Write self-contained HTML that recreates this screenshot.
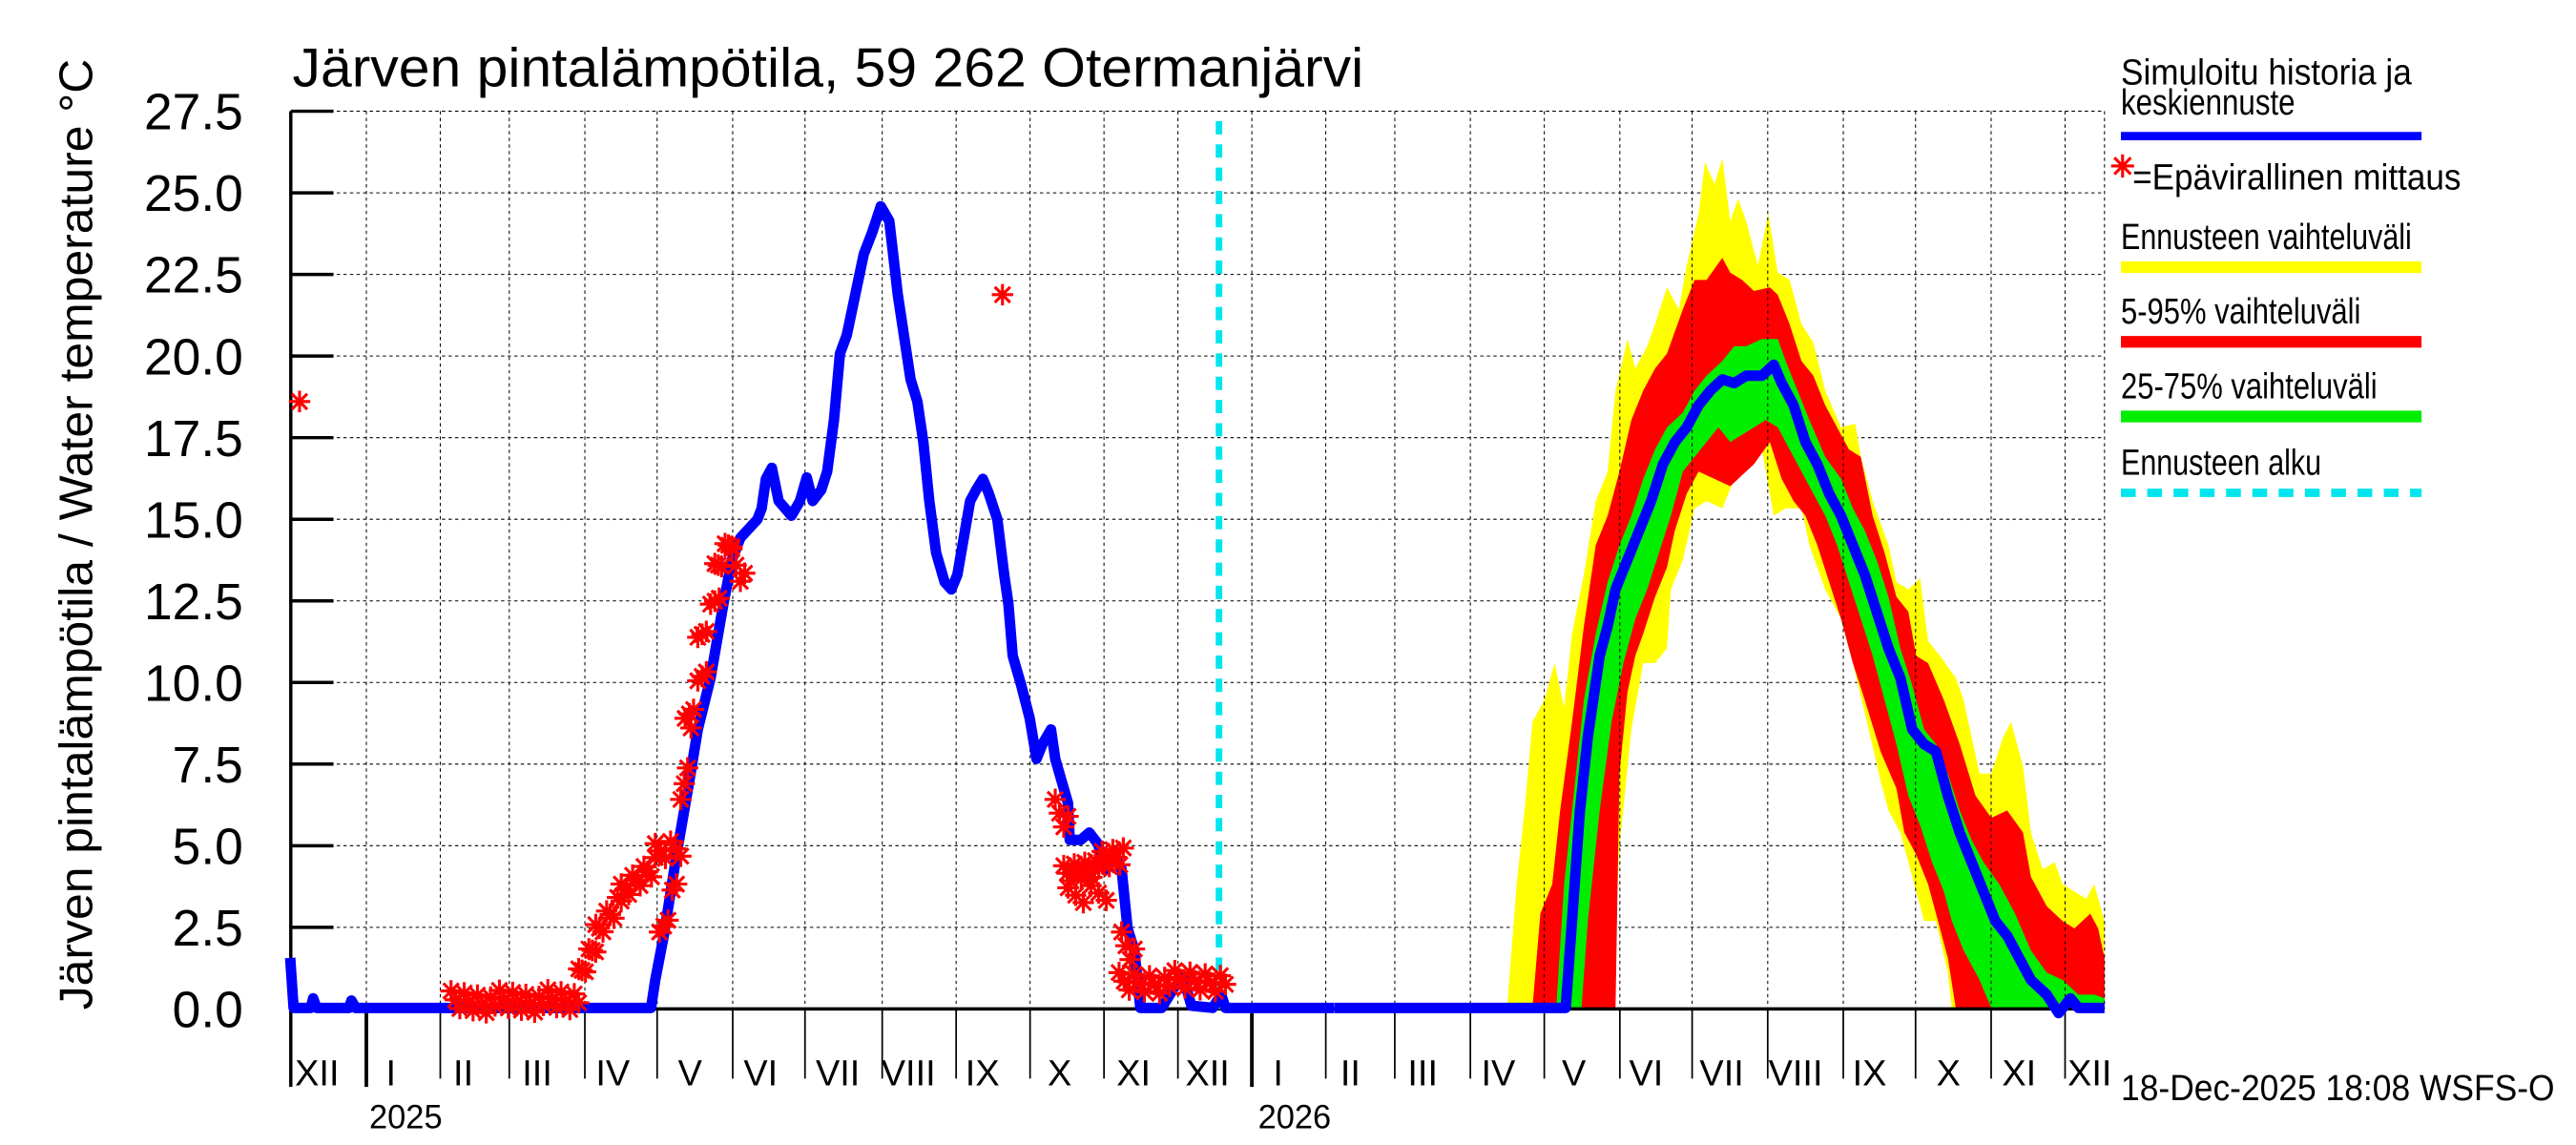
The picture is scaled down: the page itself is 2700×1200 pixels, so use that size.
<!DOCTYPE html>
<html><head><meta charset="utf-8"><style>
html,body{margin:0;padding:0;background:#fff;}
svg{display:block;}
text{font-family:"Liberation Sans",sans-serif;fill:#000;}
</style></head><body>
<svg id="s" width="2700" height="1200" viewBox="0 0 1568 690" preserveAspectRatio="none" xmlns="http://www.w3.org/2000/svg">
<g id="grid" stroke="#000" stroke-width="0.6" stroke-dasharray="2,2"></g>
<g transform="translate(812.4,0) scale(0.4816,0.444)">
<polygon fill="#ffff00" points="218,1368 230,1200 240,1100 250,980 265,950 278,900 290,960 300,860 315,780 330,680 345,640 355,530 370,460 380,500 395,470 405,440 420,390 435,420 445,360 460,290 468,220 480,250 490,215 500,300 510,270 520,300 535,360 548,290 560,370 575,380 590,440 605,465 620,530 640,580 658,575 665,620 680,680 700,740 710,790 725,800 740,785 750,870 765,890 785,920 795,950 805,1000 815,1050 830,1050 845,1000 855,980 870,1040 880,1130 895,1180 910,1170 920,1200 935,1210 950,1220 960,1200 973,1250 973,1368 780,1368 775,1320 760,1250 745,1250 730,1190 715,1130 700,1100 690,1060 675,990 655,900 640,840 620,800 600,740 590,690 570,690 555,700 540,610 520,630 505,650 490,690 470,680 455,690 440,760 425,800 420,880 405,900 390,900 375,990 360,1150 350,1368"/>
<polygon fill="#ff0000" points="250,1368 260,1240 275,1200 285,1100 300,980 315,850 330,740 345,700 360,640 375,570 390,530 405,500 420,480 440,420 455,380 470,380 490,350 500,370 515,380 530,395 550,390 560,400 575,440 590,490 605,510 620,550 635,580 650,610 665,620 680,700 695,750 710,810 725,830 735,890 750,900 770,950 790,1010 810,1080 830,1110 850,1100 870,1130 880,1190 900,1230 920,1250 935,1260 955,1240 965,1260 973,1300 973,1368 785,1368 775,1300 765,1260 750,1200 735,1160 720,1130 710,1070 690,1020 670,950 655,900 640,840 625,790 610,740 595,700 580,680 565,650 550,600 530,630 515,645 500,660 480,650 460,640 445,670 430,720 420,770 405,810 390,860 380,890 370,940 360,1050 355,1368"/>
<polygon fill="#00ee00" points="280,1368 290,1200 300,1100 315,950 330,860 345,790 360,740 375,700 390,650 405,610 420,580 440,560 455,530 470,510 490,490 505,470 520,470 540,460 560,460 570,490 585,530 600,570 620,620 640,650 655,690 670,720 685,760 700,810 715,880 730,930 745,990 760,1010 775,1050 790,1100 805,1140 820,1170 840,1200 860,1240 880,1290 900,1320 920,1330 940,1350 960,1350 973,1355 973,1368 830,1368 815,1330 795,1290 780,1250 770,1210 755,1170 740,1120 725,1080 710,1010 695,950 680,890 665,840 650,790 635,740 620,700 605,670 590,640 575,610 560,580 545,570 530,580 515,590 500,600 485,580 470,600 455,620 440,640 425,700 410,750 395,800 380,840 365,900 350,980 335,1100 320,1250 312,1368"/>
</g>
<g id="gridv" stroke="#000" stroke-width="0.6" stroke-dasharray="2,2"></g>
<line x1="177" y1="608" x2="1281" y2="608" stroke="#000" stroke-width="2"/>
<line x1="177" y1="67" x2="177" y2="655" stroke="#000" stroke-width="2"/>
<g id="ticks" stroke="#000"></g>
<g id="labels"></g>
<line x1="742" y1="73" x2="742" y2="608" stroke="#00e5ee" stroke-width="4" stroke-dasharray="8,6"/>
<g transform="scale(0.518,0.444)">
<polyline fill="none" stroke="#0000ff" stroke-width="11" vector-effect="non-scaling-stroke" stroke-linejoin="round" points="341,1300 345,1368 365,1368 368,1355 372,1368 410,1368 413,1358 418,1368 765,1368 770,1330 780,1270 795,1160 810,1060 820,990 835,920 850,820 860,760 870,730 890,705 895,690 900,650 907,635 915,680 930,700 940,680 948,648 955,680 965,665 972,640 980,570 987,480 995,455 1005,400 1015,345 1025,315 1035,280 1045,300 1055,400 1070,515 1078,545 1085,600 1092,680 1100,750 1110,790 1118,800 1125,780 1140,680 1147,665 1155,650 1162,670 1172,705 1180,780 1185,820 1190,890 1200,930 1210,975 1218,1030 1225,1010 1235,990 1240,1030 1250,1070 1255,1090 1257,1140 1270,1140 1280,1130 1290,1145 1300,1180 1310,1160 1318,1180 1325,1260 1333,1290 1340,1368 1365,1368 1380,1340 1390,1325 1400,1365 1425,1368 1435,1350 1440,1368 1568,1368"/>
</g>
<g transform="translate(812.4,0) scale(0.4816,0.444)">
<polyline fill="none" stroke="#0000ff" stroke-width="11" vector-effect="non-scaling-stroke" stroke-linejoin="round" points="0,1368 292,1368 300,1250 310,1100 320,1000 335,890 345,850 355,800 370,760 385,720 400,680 415,630 430,600 445,580 460,550 475,530 490,515 505,520 520,510 540,510 555,495 565,520 580,550 595,600 610,630 625,670 640,700 655,740 670,780 685,830 700,880 715,920 730,990 745,1010 760,1020 775,1080 790,1130 805,1170 820,1210 835,1250 850,1270 865,1300 880,1330 900,1350 915,1375 930,1355 940,1368 973,1368"/>
</g>
<g id="stars" stroke="#ff0000" stroke-width="1.8" fill="none"></g>
<text x="178" y="52" font-size="33" textLength="652" lengthAdjust="spacingAndGlyphs">Järven pintalämpötila, 59 262 Otermanjärvi</text>
<text transform="translate(56,322) rotate(-90)" font-size="28.5" text-anchor="middle" textLength="573" lengthAdjust="spacingAndGlyphs">Järven pintalämpötila / Water temperature °C</text>
<text x="247" y="680" font-size="20" text-anchor="middle">2025</text>
<text x="788" y="680" font-size="20" text-anchor="middle">2026</text>
<g font-size="22">
<text x="1291" y="51" textLength="177" lengthAdjust="spacingAndGlyphs">Simuloitu historia ja</text>
<text x="1291" y="69" textLength="106" lengthAdjust="spacingAndGlyphs">keskiennuste</text>
<text x="1298" y="114" textLength="200" lengthAdjust="spacingAndGlyphs">=Epävirallinen mittaus</text>
<text x="1291" y="150" textLength="177" lengthAdjust="spacingAndGlyphs">Ennusteen vaihteluväli</text>
<text x="1291" y="195" textLength="146" lengthAdjust="spacingAndGlyphs">5-95% vaihteluväli</text>
<text x="1291" y="240" textLength="156" lengthAdjust="spacingAndGlyphs">25-75% vaihteluväli</text>
<text x="1291" y="286" textLength="122" lengthAdjust="spacingAndGlyphs">Ennusteen alku</text>
<text x="1291" y="663" textLength="264" lengthAdjust="spacingAndGlyphs">18-Dec-2025 18:08 WSFS-O</text>
</g>
<line x1="1291" y1="82" x2="1474" y2="82" stroke="#0000ff" stroke-width="5"/>
<line x1="1291" y1="161" x2="1474" y2="161" stroke="#ffff00" stroke-width="7"/>
<line x1="1291" y1="206" x2="1474" y2="206" stroke="#ff0000" stroke-width="7"/>
<line x1="1291" y1="251" x2="1474" y2="251" stroke="#00ee00" stroke-width="7"/>
<line x1="1291" y1="297" x2="1474" y2="297" stroke="#00e5ee" stroke-width="5" stroke-dasharray="9,7"/>
</svg>
<script>
var NS="http://www.w3.org/2000/svg";
function el(p,t,a,txt){var e=document.createElementNS(NS,t);for(var k in a)e.setAttribute(k,a[k]);if(txt!==undefined)e.textContent=txt;document.getElementById(p).appendChild(e);return e;}
for(var i=0;i<=11;i++){var y=608-i*49.18;
 if(i>0)el("grid","line",{x1:177,y1:y,x2:1281,y2:y});
 el("ticks","line",{x1:177,y1:y,x2:203,y2:y,"stroke-width":2});
 el("labels","text",{x:148,y:y+11,"font-size":31,"text-anchor":"end"},(i*2.5).toFixed(1));}
var m=[223,268,310,356,400,446,490,537,582,627,672,717,762,807,849,895,940,986,1030,1076,1122,1166,1212,1257,1281];
m.forEach(function(x,i){el("gridv","line",{x1:x,y1:67,x2:x,y2:608});
 var yr=(x==223||x==762);
 if(x!=1281)el("ticks","line",{x1:x,y1:608,x2:x,y2:yr?655:650,"stroke-width":yr?2.2:1});});
var lab=[[193,"XII"],[238,"I"],[282,"II"],[327,"III"],[373,"IV"],[420,"V"],[463,"VI"],[510,"VII"],[553,"VIII"],[598,"IX"],[645,"X"],[690,"XI"],[735,"XII"],[778,"I"],[822,"II"],[866,"III"],[912,"IV"],[958,"V"],[1002,"VI"],[1048,"VII"],[1093,"VIII"],[1138,"IX"],[1186,"X"],[1229,"XI"],[1272,"XII"]];
lab.forEach(function(l){el("labels","text",{x:l[0],y:654,"font-size":22,"text-anchor":"middle"},l[1]);});
el("gridv","line",{x1:177,y1:67,x2:1281,y2:67});
function star(x,y){var r=6.5;var q=r*0.72;var d="M"+(x-r)+","+y+"H"+(x+r)+"M"+x+","+(y-r)+"V"+(y+r)+"M"+(x-q)+","+(y-q)+"L"+(x+q)+","+(y+q)+"M"+(x-q)+","+(y+q)+"L"+(x+q)+","+(y-q);el("stars","path",{d:d});}
function z(x,y){star(x*0.518,y*0.444);}
z(352,545);z(1178,400);
var segs=[[530,1360,680,1358,30],[680,1330,700,1280,6],[700,1270,730,1220,8],[730,1215,770,1170,10],[770,1160,800,1150,6],[775,1280,795,1200,5],[800,1100,812,1000,4],[805,990,830,900,6],[820,880,845,800,6],[840,780,860,730,6],[860,760,875,790,4],[1240,1100,1255,1120,4],[1250,1190,1320,1160,18],[1255,1220,1300,1210,6],[1318,1280,1333,1300,4],[1315,1335,1440,1330,22]];
segs.forEach(function(s){for(var k=0;k<s[4];k++){var t=s[4]>1?k/(s[4]-1):0;var jitter=((k*37)%11-5)*3;z(s[0]+(s[2]-s[0])*t,s[1]+(s[3]-s[1])*t+jitter);}});
(function(){var x=1292,y=100,r=7;el("stars","path",{d:"M"+(x-r)+","+y+"H"+(x+r)+"M"+x+","+(y-r)+"V"+(y+r)+"M"+(x-5)+","+(y-5)+"L"+(x+5)+","+(y+5)+"M"+(x-5)+","+(y+5)+"L"+(x+5)+","+(y-5)});})();
</script>
</body></html>
